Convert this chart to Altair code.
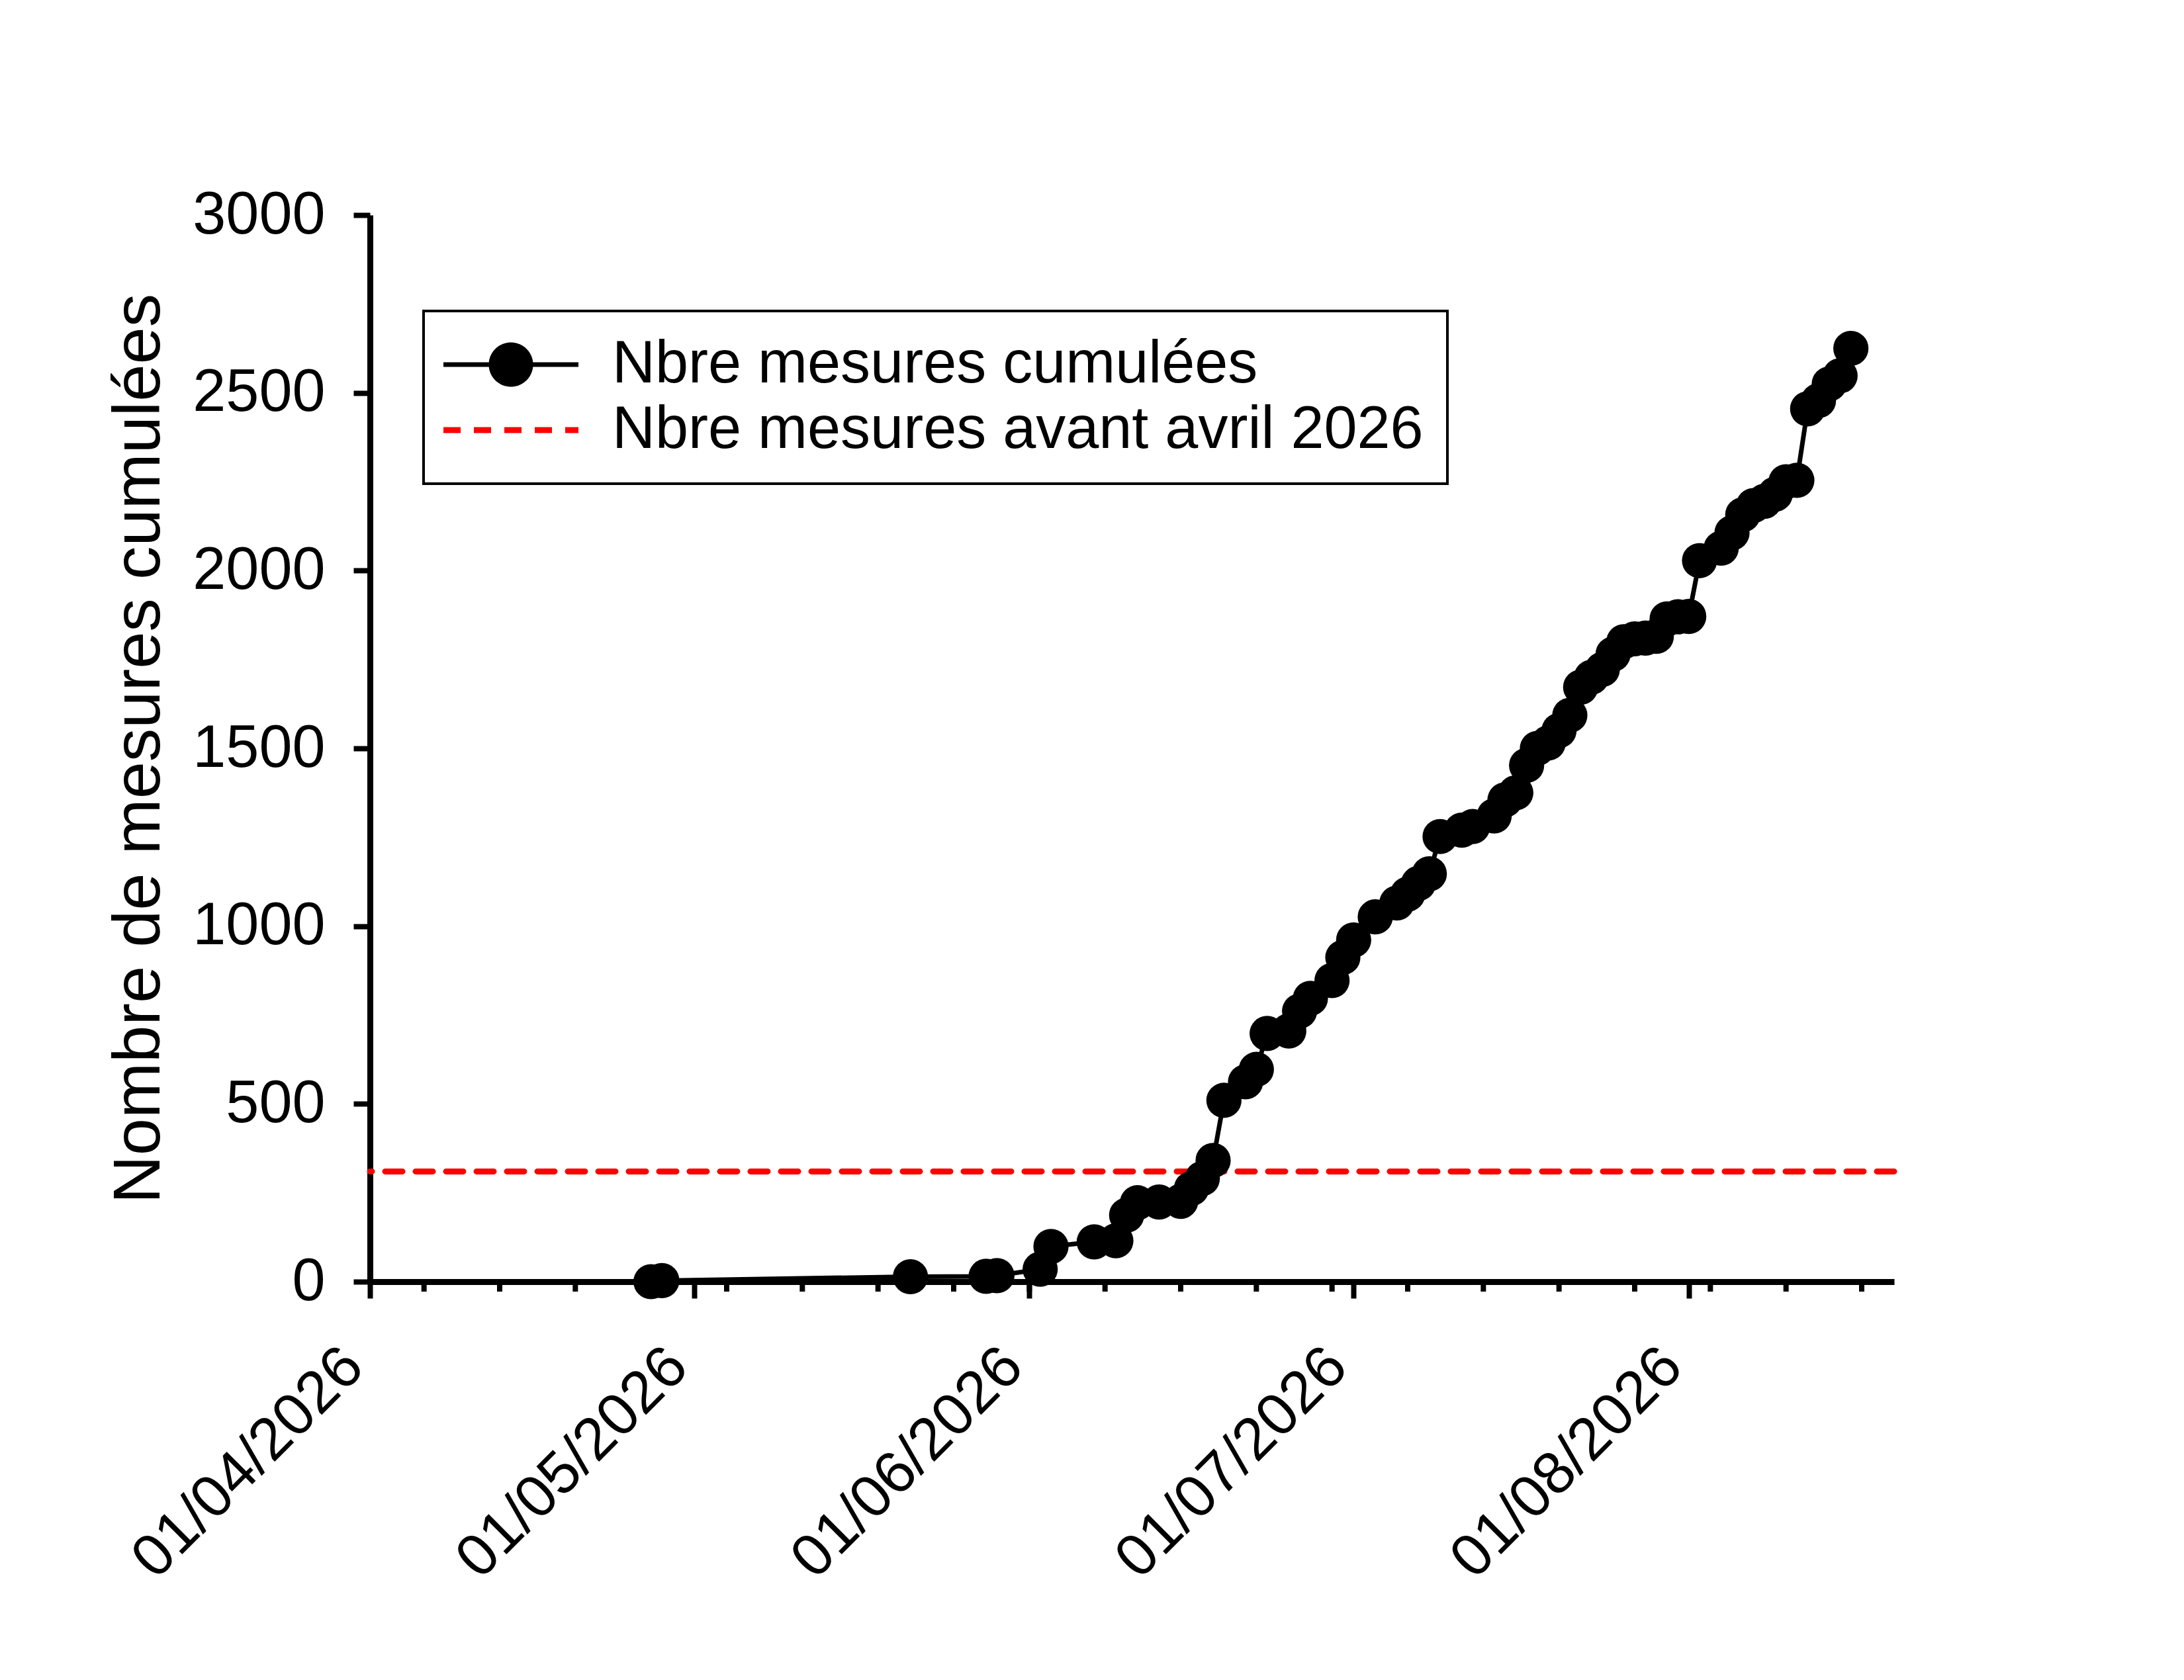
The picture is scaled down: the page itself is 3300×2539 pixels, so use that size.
import altair as alt
import pandas as pd

# ---------------- data ----------------
dates = ["2026-04-27", "2026-04-28", "2026-05-21", "2026-05-28", "2026-05-29",
         "2026-06-02", "2026-06-03", "2026-06-07", "2026-06-09", "2026-06-10",
         "2026-06-11", "2026-06-13", "2026-06-15", "2026-06-16", "2026-06-17",
         "2026-06-18", "2026-06-19", "2026-06-21", "2026-06-22", "2026-06-23",
         "2026-06-25", "2026-06-26", "2026-06-27", "2026-06-29", "2026-06-30",
         "2026-07-01", "2026-07-03", "2026-07-05", "2026-07-06", "2026-07-07",
         "2026-07-08", "2026-07-09", "2026-07-11", "2026-07-12", "2026-07-14",
         "2026-07-15", "2026-07-16", "2026-07-17", "2026-07-18", "2026-07-19",
         "2026-07-20", "2026-07-21", "2026-07-22", "2026-07-23", "2026-07-24",
         "2026-07-25", "2026-07-26", "2026-07-27", "2026-07-28", "2026-07-29",
         "2026-07-30", "2026-07-31", "2026-08-01", "2026-08-02", "2026-08-04",
         "2026-08-05", "2026-08-06", "2026-08-07", "2026-08-08", "2026-08-09",
         "2026-08-10", "2026-08-11", "2026-08-12", "2026-08-13", "2026-08-14",
         "2026-08-15", "2026-08-16"]
values = [0, 3, 14, 15, 17,
          35, 99, 112, 115, 187,
          222, 224, 226, 262, 290,
          341, 510, 562, 597, 698,
          705, 761, 797, 847, 912,
          961, 1026, 1065, 1090, 1120,
          1147, 1252, 1270, 1280, 1310,
          1355, 1375, 1452, 1500, 1515,
          1550, 1593, 1672, 1700, 1722,
          1765, 1800, 1808, 1810, 1815,
          1864, 1870, 1871, 2028, 2063,
          2106, 2157, 2183, 2195, 2215,
          2250, 2254, 2455, 2478, 2525,
          2548, 2625]

threshold = [310]

series_names = ["Nbre mesures cumulées", "Nbre mesures avant avril 2026"]
series_colors = ["#000000", "#ff0000"]

y_ticks = [0, 500, 1000, 1500, 2000, 2500, 3000]
month_ticks = [(2026, 4, 1), (2026, 5, 1), (2026, 6, 1), (2026, 7, 1), (2026, 8, 1)]
minor_ticks = ["2026-04-06", "2026-04-13", "2026-04-20", "2026-04-27",
               "2026-05-04", "2026-05-11", "2026-05-18", "2026-05-25",
               "2026-06-01", "2026-06-08", "2026-06-15", "2026-06-22", "2026-06-29",
               "2026-07-06", "2026-07-13", "2026-07-20", "2026-07-27",
               "2026-08-03", "2026-08-10", "2026-08-17"]
x_start = (2026, 4, 1)
x_end = (2026, 8, 20)

# ---------------- layout / style ----------------
W, H = 2303, 1612
FONT = "Liberation Sans"
S1, S2 = series_names

df = pd.DataFrame({"date": pd.to_datetime(dates), "n": values, "serie": S1})
ref = pd.DataFrame({"n": threshold, "serie": [S2]})
minor = pd.DataFrame({"date": pd.to_datetime(minor_ticks)})


def dt(t):
    return alt.DateTime(year=t[0], month=t[1], date=t[2])


circle_line = "M-3.4,0L3.4,0M1,0A1,1,0,1,1,-1,0A1,1,0,1,1,1,0Z"
plain_line = "M-3.4,0L3.4,0"
is_s1 = "datum.value === '" + S1 + "'"


def build(border_mode):
    xscale = alt.Scale(domain=[dt(x_start), dt(x_end)])
    yscale = alt.Scale(domain=[0, 3000], nice=False)
    cscale = alt.Scale(domain=series_names, range=series_colors)

    xaxis = alt.Axis(values=[dt(t) for t in month_ticks], format="%d/%m/%Y",
                     labelAngle=-45, labelFontSize=90, labelPadding=58, labelOffset=-56,
                     labelLimit=3000, tickSize=25, tickWidth=8, domainWidth=9, grid=False,
                     labelOverlap=False, labelFlush=False, title=None)
    yaxis = alt.Axis(values=y_ticks, format="d", labelFontSize=90, labelPadding=43,
                     labelLimit=3000, tickSize=25, tickWidth=8, domainWidth=9, grid=False,
                     title="Nombre de mesures cumulées", titleFontSize=101,
                     titleFontWeight="normal", titlePadding=98, titleLimit=4000)

    lkw = dict(title=None, orient="none", legendX=81, legendY=145,
               labelFontSize=90, labelFont=FONT, labelColor="black", labelLimit=0,
               symbolSize=3600, symbolOffset=51, labelOffset=108, rowPadding=9,
               padding=36, strokeColor="black", fillColor="white",
               symbolType={"expr": is_s1 + " ? '" + circle_line + "' : '" + plain_line + "'"},
               symbolFillColor={"expr": is_s1 + " ? '#000000' : 'transparent'"},
               symbolDash={"expr": is_s1 + " ? [1, 0] : [26, 20]"},
               symbolStrokeWidth={"expr": is_s1 + " ? 7 : 9"})
    if border_mode == "legend":
        lkw["strokeWidth"] = 4
    legend = alt.Legend(**lkw)

    x_enc = alt.X("date:T", scale=xscale, axis=xaxis)
    y_enc = alt.Y("n:Q", scale=yscale, axis=yaxis)

    ref_rule = alt.Chart(ref).mark_rule(strokeWidth=9, strokeDash=[26, 20], strokeCap="round",
                                        color="#ff0000").encode(
        y=alt.Y("n:Q", scale=yscale, axis=yaxis),
    )
    line = alt.Chart(df).mark_line(strokeWidth=7).encode(
        x=x_enc, y=y_enc,
        color=alt.Color("serie:N", scale=cscale, legend=legend),
    )
    points = alt.Chart(df).mark_point(filled=True, size=2830, color="black", opacity=1,
                                      strokeWidth=0).encode(x=x_enc, y=y_enc)
    minor_rules = alt.Chart(minor).mark_rule(strokeWidth=8, color="black").encode(
        x=x_enc, y=alt.value(H), y2=alt.value(H + 15)
    )
    return alt.layer(ref_rule, line, points, minor_rules)


def finish(base, border_mode, msg=""):
    props = dict(width=W, height=H,
                 autosize=alt.AutoSizeParams(type="none"),
                 padding={"left": 551, "top": 317, "right": 430, "bottom": 594},
                 background="white")
    if msg:
        lines = [msg[i:i + 110] for i in range(0, len(msg), 110)]
        props["title"] = alt.TitleParams(lines, fontSize=24, anchor="start", color="blue")
    c = base.properties(**props).configure(font=FONT).configure_view(stroke=None).configure_axis(
        labelFont=FONT, titleFont=FONT, labelColor="black", titleColor="black",
        domainColor="black", tickColor="black",
    )
    if border_mode == "config":
        c = c.configure_legend(strokeWidth=4)
    return c


chart = None
errs = []
for mode in ["legend", "config", "none"]:
    try:
        c = finish(build(mode), mode, " | ".join(errs) if mode == "none" else "")
        c.to_dict()
        chart = c
        break
    except Exception as e:
        errs.append(str(e)[:200])

chart.save("out.html", embed_options={"renderer": "svg", "actions": False})
